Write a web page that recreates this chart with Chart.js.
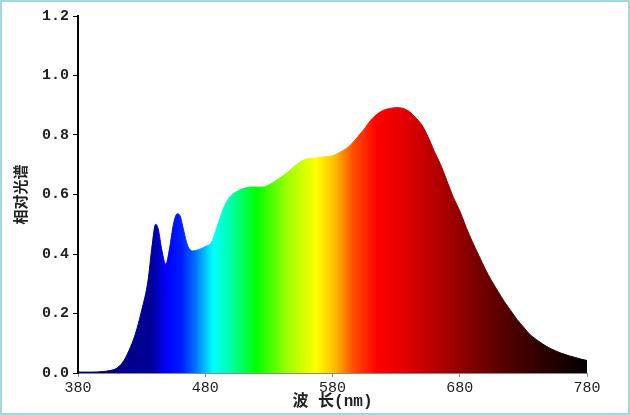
<!DOCTYPE html>
<html lang="zh">
<head>
  <meta charset="UTF-8" />
  <title>相对光谱</title>
  <script src="https://cdn.jsdelivr.net/npm/chart.js"></script>
  <style>
    body {
      margin: 0;
      background: #fff;
    }
    .frame {
      box-sizing: border-box;
      width: 630px;
      height: 415px;
      border: 2px solid #a3d8dc;
      position: relative;
    }
  </style>
</head>
<body>

  <div class="frame">
    <canvas id="spectrum"></canvas>
  </div>

  <script>
    // wavelength (nm) and relative spectral power
    const wavelengths = [380, 390, 400, 405, 410, 415, 420, 425, 430, 435, 438, 441, 443, 446, 449,
      452, 455, 458, 460, 463, 466, 470, 475, 480, 485, 490, 495, 500, 505, 510, 515, 520, 525,
      530, 535, 540, 545, 550, 555, 560, 565, 570, 575, 580, 585, 590, 595, 600, 605, 610, 615,
      620, 625, 630, 635, 640, 645, 650, 655, 660, 665, 670, 675, 680, 685, 690, 695, 700, 705,
      710, 715, 720, 725, 730, 735, 740, 745, 750, 755, 760, 765, 770, 775, 780];
    const intensity = [0.003, 0.003, 0.005, 0.008, 0.015, 0.035, 0.075, 0.13, 0.21, 0.31, 0.42, 0.50, 0.485, 0.41, 0.365,
      0.42, 0.50, 0.535, 0.53, 0.48, 0.43, 0.41, 0.415, 0.425, 0.44, 0.50, 0.56, 0.595, 0.61, 0.62, 0.625, 0.625, 0.625,
      0.632, 0.645, 0.66, 0.675, 0.695, 0.71, 0.72, 0.722, 0.725, 0.727, 0.73, 0.74, 0.752, 0.77, 0.795, 0.82, 0.85, 0.87,
      0.883, 0.889, 0.892, 0.89, 0.88, 0.86, 0.835, 0.795, 0.745, 0.70, 0.645, 0.59, 0.545, 0.49, 0.44, 0.395, 0.35, 0.31,
      0.275, 0.24, 0.21, 0.18, 0.155, 0.13, 0.113, 0.098, 0.085, 0.075, 0.066, 0.059, 0.053, 0.047, 0.042];

    const xTicks = [380, 480, 580, 680, 780];
    const yTicks = [0, 0.2, 0.4, 0.6, 0.8, 1.0, 1.2];

    // rainbow fill, colour stop per wavelength
    const stopNm = [380, 420, 438, 450, 462, 472, 486, 500, 520, 545, 567, 582, 596, 615, 638, 664, 690, 717, 743, 769, 780];
    const stopColors = ['#00006e', '#00008c', '#00009a', '#0000ff', '#0020ff', '#0070ff', '#00ffff', '#00ffa8',
      '#00ff00', '#a0ff00', '#ffff00', '#ffbb00', '#ff5000', '#ff0000', '#e00000', '#b00000', '#800000',
      '#500000', '#300000', '#100000', '#000000'];

    function spectrumGradient(context) {
      const chart = context.chart;
      if (!chart.chartArea) return '#000';
      const xs = chart.scales.x;
      const x0 = xs.getPixelForValue(380);
      const x1 = xs.getPixelForValue(780);
      const g = chart.ctx.createLinearGradient(x0, 0, x1, 0);
      stopNm.forEach((nm, i) => g.addColorStop((nm - 380) / 400, stopColors[i]));
      return g;
    }

    const ctx = document.getElementById('spectrum').getContext('2d');
    const chart = new Chart(ctx, {
      type: 'line',
      data: {
        datasets: [{
          data: wavelengths.map((nm, i) => ({ x: nm, y: intensity[i] })),
          fill: 'origin',
          backgroundColor: spectrumGradient,
          borderColor: spectrumGradient,
          borderWidth: 1,
          pointRadius: 0,
          cubicInterpolationMode: 'monotone'
        }]
      },
      options: {
        responsive: true,
        maintainAspectRatio: false,
        animation: false,
        layout: {
          padding: { top: 14, right: 41, bottom: 0, left: 0 }
        },
        scales: {
          x: {
            type: 'linear',
            min: 380,
            max: 780,
            afterFit: scale => { scale.height = 40; },
            afterBuildTicks: scale => { scale.ticks = xTicks.map(v => ({ value: v })); },
            grid: { drawOnChartArea: false, tickLength: 4, color: '#888' },
            border: { display: true, color: '#8a8a8a', width: 1 },
            ticks: {
              color: '#222',
              padding: 2,
              maxRotation: 0,
              font: { family: 'Liberation Mono', size: 15 }
            },
            title: {
              display: true,
              text: '波 长(nm)',
              color: '#222',
              padding: { top: 0, bottom: 1 },
              font: { family: "'Liberation Mono', 'Noto Sans CJK SC'", size: 16, weight: 'bold' }
            }
          },
          y: {
            min: 0,
            max: 1.2,
            afterFit: scale => { scale.width = 76; },
            afterBuildTicks: scale => { scale.ticks = yTicks.map(v => ({ value: v })); },
            grid: { drawOnChartArea: false, tickLength: 5, color: '#000' },
            border: { display: true, color: '#000', width: 2 },
            ticks: {
              color: '#222',
              padding: 4,
              callback: v => Number(v).toFixed(1),
              font: { family: 'Liberation Mono', size: 15, weight: 'bold' }
            },
            title: {
              display: true,
              text: '相对光谱',
              color: '#222',
              padding: { top: 9, bottom: 0 },
              font: { family: "'Noto Sans CJK SC'", size: 15, weight: 'bold' }
            }
          }
        },
        plugins: {
          legend: { display: false },
          tooltip: { enabled: false }
        }
      }
    });
  </script>

</body>
</html>
